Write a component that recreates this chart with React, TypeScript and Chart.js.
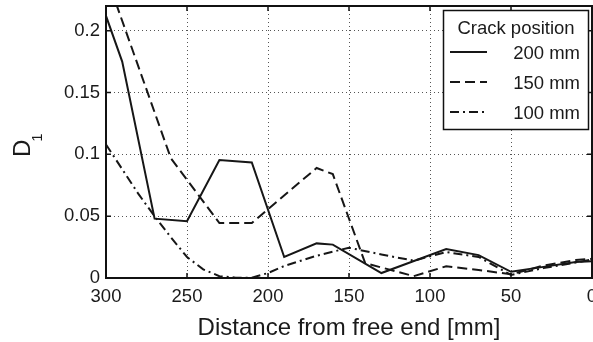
import React, { useEffect, useRef } from 'react';
import { Chart, registerables } from 'chart.js';

Chart.register(...registerables);

const FONT = '"Liberation Sans", Arial, Helvetica, sans-serif';

const xTicks = [300, 250, 200, 150, 100, 50, 0];
const yTicks = [0, 0.05, 0.1, 0.15, 0.2];
const yTickLabels = ['0', '0.05', '0.1', '0.15', '0.2'];

const seriesNames = ['200 mm', '150 mm', '100 mm'];

const x200 = [300, 290, 270, 250, 230, 210, 190, 170, 160, 130, 90, 70, 50, 30, 10, 0];
const y200 = [0.212, 0.175, 0.048, 0.046, 0.0955, 0.0935, 0.017, 0.028, 0.027, 0.004, 0.0235, 0.0185, 0.005, 0.009, 0.013, 0.0135];

const x150 = [300, 260, 230, 210, 170, 160, 140, 110, 90, 70, 50, 30, 10, 0];
const y150 = [0.245, 0.097, 0.0445, 0.0445, 0.089, 0.084, 0.012, 0.0015, 0.0095, 0.0065, 0.003, 0.01, 0.0145, 0.0155];

const x100 = [300, 290, 280, 270, 260, 250, 240, 230, 220, 210, 200, 190, 170, 150, 130, 110, 90, 70, 50, 30, 10, 0];
const y100 = [0.108, 0.088, 0.068, 0.05, 0.033, 0.017, 0.007, 0.0015, 0.0003, 0.0003, 0.004, 0.0097, 0.018, 0.0245, 0.019, 0.014, 0.021, 0.017, 0.0025, 0.008, 0.0125, 0.015];

const legendTitle = 'Crack position';
const xTitle = 'Distance from free end [mm]';

const toPts = (xs: number[], ys: number[]) => xs.map((x, i) => ({ x, y: ys[i] }));

const LINE = '#161616';

const framePlugin = {
  id: 'framePlugin',
  afterDraw(chart: any) {
    const { ctx, chartArea: a, scales } = chart;
    ctx.save();
    ctx.strokeStyle = '#111';
    ctx.lineWidth = 1.5;
    ctx.setLineDash([]);
    ctx.beginPath();
    xTicks.forEach((v) => {
      const px = scales.x.getPixelForValue(v);
      ctx.moveTo(px, a.bottom); ctx.lineTo(px, a.bottom - 5);
      ctx.moveTo(px, a.top); ctx.lineTo(px, a.top + 5);
    });
    yTicks.forEach((v) => {
      const py = scales.y.getPixelForValue(v);
      ctx.moveTo(a.left, py); ctx.lineTo(a.left + 5, py);
      ctx.moveTo(a.right, py); ctx.lineTo(a.right - 5, py);
    });
    ctx.stroke();
    ctx.lineWidth = 2;
    ctx.strokeRect(a.left, a.top, a.right - a.left, a.bottom - a.top);

    // legend
    const bx = 443.5, by = 10.5, bw = 145, bh = 119;
    ctx.fillStyle = '#fff';
    ctx.fillRect(bx, by, bw, bh);
    ctx.lineWidth = 1.5;
    ctx.strokeRect(bx, by, bw, bh);
    ctx.fillStyle = '#1a1a1a';
    ctx.font = `18.5px ${FONT}`;
    ctx.textBaseline = 'alphabetic';
    ctx.textAlign = 'center';
    ctx.fillText(legendTitle, 516, 33.5);
    chart.data.datasets.forEach((ds: any, i: number) => {
      const cy = 52 + i * 30;
      ctx.save();
      ctx.strokeStyle = ds.borderColor;
      ctx.lineWidth = ds.borderWidth;
      ctx.setLineDash(ds.borderDash || []);
      ctx.beginPath();
      ctx.moveTo(450, cy);
      ctx.lineTo(487, cy);
      ctx.stroke();
      ctx.restore();
      ctx.textAlign = 'right';
      ctx.fillText(ds.label, 580, cy + 6.5);
    });

    // y title D_1
    ctx.save();
    ctx.translate(30, 157);
    ctx.rotate(-Math.PI / 2);
    ctx.textAlign = 'left';
    ctx.font = `24px ${FONT}`;
    ctx.fillText('D', 0, 0);
    const w = ctx.measureText('D').width;
    ctx.font = `15px ${FONT}`;
    ctx.fillText('1', w - 2, 12);
    ctx.restore();
    ctx.restore();
  },
};

export default function App() {
  const ref = useRef<HTMLCanvasElement>(null);
  useEffect(() => {
    const chart = new Chart(ref.current as HTMLCanvasElement, {
      type: 'line',
      data: {
        datasets: [
          { label: seriesNames[0], data: toPts(x200, y200), borderColor: LINE, borderWidth: 2, borderDash: [], pointRadius: 0, fill: false, tension: 0 },
          { label: seriesNames[1], data: toPts(x150, y150), borderColor: LINE, borderWidth: 2, borderDash: [10, 5], pointRadius: 0, fill: false, tension: 0 },
          { label: seriesNames[2], data: toPts(x100, y100), borderColor: LINE, borderWidth: 2, borderDash: [9, 4, 2, 4], pointRadius: 0, fill: false, tension: 0 },
        ] as any,
      },
      options: {
        responsive: false,
        devicePixelRatio: 1,
        animation: false,
        layout: { padding: { top: 6, right: 1, left: 0, bottom: 0 } },
        plugins: { legend: { display: false }, tooltip: { enabled: false } },
        scales: {
          x: {
            type: 'linear',
            min: 0,
            max: 300,
            reverse: true,
            afterBuildTicks: (s: any) => { s.ticks = xTicks.map((v) => ({ value: v })); },
            afterFit: (s: any) => { s.height = 64; s.paddingLeft = 0; s.paddingRight = 0; },
            grid: { color: '#555', lineWidth: 1, drawTicks: false, borderDash: [1, 3] } as any,
            border: { display: false, dash: [1, 3] },
            ticks: {
              font: { family: FONT, size: 18.5 },
              color: '#1a1a1a',
              padding: 8,
              maxRotation: 0,
              autoSkip: false,
              callback: (v: any) => String(v),
            },
            title: {
              display: true,
              text: xTitle,
              font: { family: FONT, size: 24, lineHeight: 1.2 },
              color: '#1a1a1a',
              padding: { top: 0, bottom: -1 },
            },
          },
          y: {
            type: 'linear',
            min: 0,
            max: 0.22,
            afterBuildTicks: (s: any) => { s.ticks = yTicks.map((v) => ({ value: v })); },
            afterFit: (s: any) => { s.width = 106; s.paddingTop = 0; s.paddingBottom = 0; },
            grid: { color: '#555', lineWidth: 1, drawTicks: false, borderDash: [1, 3] } as any,
            border: { display: false, dash: [1, 3] },
            ticks: {
              font: { family: FONT, size: 18.5 },
              color: '#1a1a1a',
              padding: 6,
              autoSkip: false,
              callback: (_v: any, i: number) => yTickLabels[i],
            },
          },
        },
      } as any,
      plugins: [framePlugin],
    });
    return () => chart.destroy();
  }, []);
  return (
    <div style={{ position: 'absolute', left: 0, top: 0, width: 593, height: 342, background: '#fff', overflow: 'hidden' }}>
      <canvas ref={ref} width={593} height={342} style={{ display: 'block', width: 593, height: 342 }} />
    </div>
  );
}
